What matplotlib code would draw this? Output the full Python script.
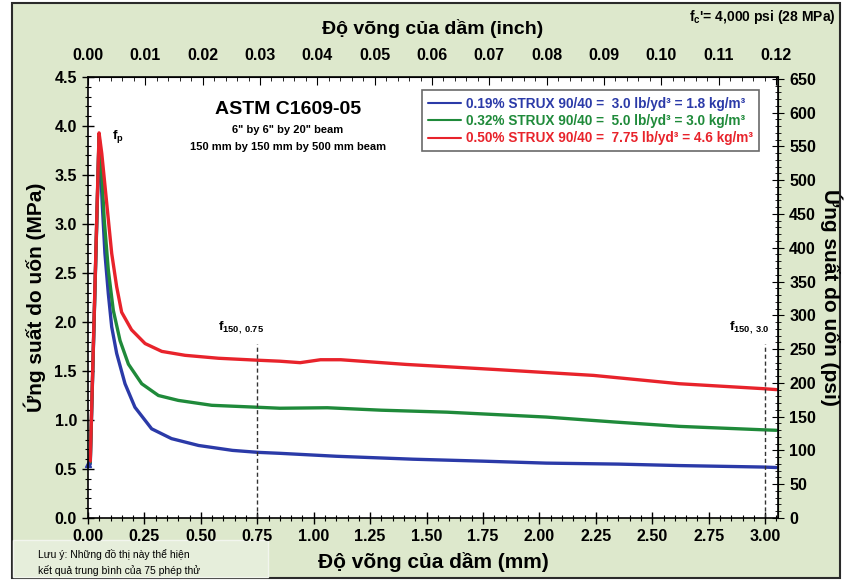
import matplotlib
matplotlib.use("Agg")
import matplotlib.pyplot as plt
from matplotlib.patches import Rectangle
from matplotlib.ticker import MultipleLocator

plt.rcParams.update({
    "font.family": ["Liberation Sans", "DejaVu Sans"],
    "font.size": 10,
    "font.weight": "bold",
    "mathtext.default": "regular",
})

# ── Data ─────────────────────────────────────────────────────────────────
blue_x = [0.01, 0.049, 0.053, 0.063, 0.075, 0.090, 0.105, 0.127, 0.164, 0.208,
          0.282, 0.37, 0.49, 0.64, 0.752, 0.85, 1.10, 1.44, 1.75, 2.03, 2.35,
          2.62, 2.99, 3.05]
blue_y = [0.55, 3.88, 3.72, 3.21, 2.70, 2.29, 1.95, 1.68, 1.37, 1.13,
          0.91, 0.81, 0.74, 0.69, 0.67, 0.66, 0.63, 0.60, 0.58, 0.56, 0.55,
          0.535, 0.52, 0.515]

green_x = [0.01, 0.049, 0.058, 0.072, 0.090, 0.112, 0.142, 0.179, 0.238, 0.312,
           0.40, 0.548, 0.752, 0.85, 1.06, 1.30, 1.59, 2.03, 2.33, 2.62, 2.99,
           3.05]
green_y = [0.57, 3.90, 3.65, 3.04, 2.53, 2.12, 1.81, 1.57, 1.37, 1.25,
           1.20, 1.15, 1.13, 1.12, 1.125, 1.10, 1.08, 1.03, 0.98, 0.935, 0.90,
           0.895]

red_x = [0.01, 0.049, 0.061, 0.083, 0.105, 0.127, 0.149, 0.193, 0.253, 0.327,
         0.43, 0.578, 0.752, 0.85, 0.94, 1.03, 1.12, 1.41, 1.80, 2.24, 2.62,
         2.99, 3.05]
red_y = [0.58, 3.93, 3.72, 3.21, 2.70, 2.36, 2.10, 1.92, 1.78, 1.70,
         1.66, 1.63, 1.61, 1.60, 1.585, 1.615, 1.615, 1.567, 1.516, 1.455, 1.37,
         1.32, 1.31]

labels = [
    "0.19% STRUX 90/40 =  3.0 lb/yd³ = 1.8 kg/m³",
    "0.32% STRUX 90/40 =  5.0 lb/yd³ = 3.0 kg/m³",
    "0.50% STRUX 90/40 =  7.75 lb/yd³ = 4.6 kg/m³",
]
colors = ["#2b3aa8", "#1f8a3a", "#e8232b"]

mark_x = [0.75, 3.0]
mark_labels = [r"f$_{150,\,0.75}$", r"f$_{150,\,3.0}$"]

# ── Figure ───────────────────────────────────────────────────────────────
fig = plt.figure(figsize=(8.49, 5.84), dpi=100, facecolor="white")
W, H = 849, 584

# green panel + note box
fig.patches.append(Rectangle((12 / W, 1 - 578 / H), 828 / W, 575 / H,
                             transform=fig.transFigure, facecolor="#dde8cc",
                             edgecolor="#2a2a2a", linewidth=1.5, zorder=-2))
fig.patches.append(Rectangle((13 / W, 1 - 577 / H), 255 / W, 37 / H,
                             transform=fig.transFigure, facecolor="#e6eedb",
                             edgecolor="#f2f5ee", linewidth=1, zorder=-1))

ax = fig.add_axes([88 / W, 1 - 518 / H, 690 / W, 441 / H])
ax.set_facecolor("white")

for xs, ys, c, lab in zip([blue_x, green_x, red_x], [blue_y, green_y, red_y],
                          colors, labels):
    ax.plot(xs, ys, color=c, lw=2.4, label=lab, solid_capstyle="round",
            solid_joinstyle="round")
ax.plot(blue_x[0] - 0.01, blue_y[0], marker="^", color=colors[0], ms=4,
        clip_on=False)

ax.set_xlim(0, 3.057)
ax.set_ylim(0, 4.5)
ax.xaxis.set_major_locator(MultipleLocator(0.25))
ax.xaxis.set_minor_locator(MultipleLocator(0.05))
ax.yaxis.set_major_locator(MultipleLocator(0.5))
ax.yaxis.set_minor_locator(MultipleLocator(0.1))
ax.xaxis.set_major_formatter(lambda v, p: f"{v:.2f}")
ax.yaxis.set_major_formatter(lambda v, p: f"{v:.1f}")
ax.tick_params(which="major", direction="inout", length=8, width=1,
               labelsize=11.5, pad=4)
ax.tick_params(which="minor", direction="inout", length=4, width=0.8)
for s in ax.spines.values():
    s.set_linewidth(1.2)

ax.set_xlabel("Độ võng của dầm (mm)", fontsize=15, fontweight="bold", labelpad=6)
ax.set_ylabel("Ứng suất do uốn (MPa)", fontsize=15, fontweight="bold", labelpad=6)

# top axis: inch
top = ax.secondary_xaxis("top", functions=(lambda x: x / 25.4, lambda x: x * 25.4))
top.xaxis.set_major_locator(MultipleLocator(0.01))
top.xaxis.set_minor_locator(MultipleLocator(0.002))
top.xaxis.set_major_formatter(lambda v, p: f"{v:.2f}")
top.tick_params(which="major", direction="in", length=6, labelsize=11.5, pad=10)
top.tick_params(which="minor", direction="in", length=3)
top.set_xlabel("Độ võng của dầm (inch)", fontsize=14, fontweight="bold", labelpad=10)

# right axis: psi
right = ax.secondary_yaxis("right", functions=(lambda y: y * 145.04, lambda y: y / 145.04))
right.yaxis.set_major_locator(MultipleLocator(50))
right.yaxis.set_minor_locator(MultipleLocator(10))
right.tick_params(which="major", direction="inout", length=8, labelsize=11.5, pad=4)
right.tick_params(which="minor", direction="inout", length=4)
right.set_ylabel("Ứng suất do uốn (psi)", fontsize=15, fontweight="bold",
                 rotation=-90, labelpad=19)

# dashed markers
for mx, ml in zip(mark_x, mark_labels):
    ax.plot([mx, mx], [0, 1.78], color="#333333", lw=1, ls=(0, (3, 2)))
    ax.text(mx - 0.07, 1.86, ml, ha="center", va="bottom", fontsize=9.5,
            fontweight="bold")

ax.text(0.105, 3.89, r"f$_p$", fontsize=9.5, fontweight="bold", va="center")

ax.text(0.885, 4.17, "ASTM C1609-05", ha="center", va="center", fontsize=14,
        fontweight="bold")
ax.text(0.885, 3.96, "6\" by 6\" by 20\" beam", ha="center", va="center", fontsize=8)
ax.text(0.885, 3.79, "150 mm by 150 mm by 500 mm beam", ha="center",
        va="center", fontsize=8)

leg = ax.legend(loc="upper left", bbox_to_anchor=(0.474, 0.985), frameon=True,
                fancybox=False, edgecolor="#444444", labelcolor="linecolor",
                prop={"weight": "bold", "size": 9.8}, handlelength=2.4,
                handletextpad=0.4, borderpad=0.45, labelspacing=0.25)
leg.get_frame().set_linewidth(1.2)
for ln in leg.get_lines():
    ln.set_linewidth(1.5)

fig.text(836 / W, 1 - 17 / H, r"f$_c$'= 4,000 psi (28 MPa)", ha="right",
         va="center", fontsize=10, fontweight="bold")
fig.text(38 / W, 1 - 554 / H, "Lưu ý: Những đồ thị này thể hiện", fontsize=7.5,
         fontweight="normal", va="center")
fig.text(38 / W, 1 - 571 / H, "kết quả trung bình của 75 phép thử", fontsize=7.5,
         fontweight="normal", va="center")

fig.savefig("out.png", dpi=100, facecolor=fig.get_facecolor())
